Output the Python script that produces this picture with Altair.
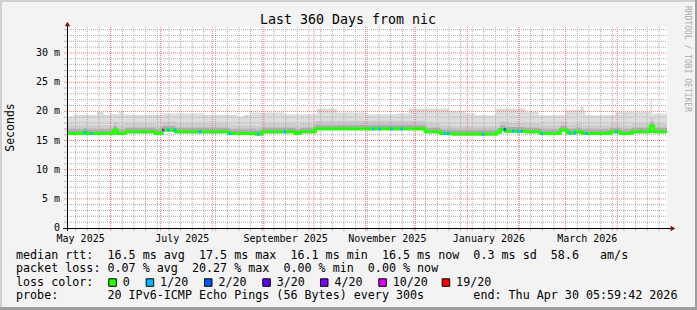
import altair as alt
import numpy as np
import pandas as pd

# ------------------------------------------------------------------
# Data (days counted from START)
# ------------------------------------------------------------------
START = pd.Timestamp("2025-05-05 20:00:00")
N_DAYS = 360

# median rtt (ms), piecewise constant from each start day
median_day = [0, 10, 12, 28, 30, 35, 53, 57, 65, 97, 113, 117, 137, 140, 149,
              215, 224, 231, 258, 260, 263, 275, 284, 296, 300, 305, 309, 313,
              326, 332, 339, 350, 352]
median_ms = [16.2, 16.4, 16.2, 16.8, 16.2, 16.5, 16.2, 16.8, 16.5, 16.2, 16.1, 16.5,
             16.2, 16.5, 17.0, 16.5, 16.2, 16.1, 16.4, 16.9, 16.6, 16.5, 16.2, 16.8,
             16.3, 16.5, 16.2, 16.2, 16.5, 16.2, 16.5, 17.5, 16.5]

# days with packet loss (number of lost pings out of 20)
loss_day = [10, 14, 57, 60, 64, 79, 97, 114, 130, 183, 187, 194, 200, 226, 228,
            249, 262, 267, 270, 272, 284, 301, 304, 311, 329]
loss_count = [1, 1, 10, 1, 1, 1, 1, 1, 1, 1, 1, 1, 1, 1, 1,
              1, 2, 1, 1, 1, 1, 1, 1, 1, 1]

# top of the smoke (max rtt, ms), piecewise constant
max_day = [0, 4, 18, 22, 26, 31, 34, 38, 58, 82, 102, 106, 110, 130, 150, 162,
           179, 197, 205, 229, 239, 245, 257, 275, 283, 299, 308, 310, 311, 329,
           350, 351]
max_ms = [19.1, 19.4, 19.9, 19.4, 19.5, 19.9, 19.5, 19.4, 19.65, 19.4, 19.1, 19.4,
          19.8, 19.5, 20.5, 19.8, 19.5, 19.65, 20.5, 20.05, 19.65, 19.35, 20.5,
          19.9, 19.35, 20.2, 20.8, 20.2, 19.35, 19.9, 21.9, 19.65]

# thickness of the inner smoke bands relative to the median (ms)
smoke_below_ms = 0.25
smoke_mid_above_ms = 1.4
smoke_dark_above_ms = 0.7

loss_levels = [0, 1, 2, 3, 4, 10, 19]
loss_labels = ["0", "1/20", "2/20", "3/20", "4/20", "10/20", "19/20"]
loss_colors = ["#26ff00", "#00b8ff", "#0059ff", "#5e00ff", "#7e00ff", "#dd00ff", "#ff0000"]

y_label_vals = [0, 5, 10, 15, 20, 25, 30]
y_label_text = ["0", "5 m", "10 m", "15 m", "20 m", "25 m", "30 m"]
x_label_dates = ["2025-05-14", "2025-07-14", "2025-09-14", "2025-11-14", "2026-01-14", "2026-03-14"]
x_label_text = ["May 2025", "July 2025", "September 2025", "November 2025", "January 2026", "March 2026"]

title_text = "Last 360 Days from nic"
legend_lines = [
    "median rtt:  16.5 ms avg  17.5 ms max  16.1 ms min  16.5 ms now  0.3 ms sd  58.6   am/s",
    "packet loss: 0.07 % avg  20.27 % max  0.00 % min  0.00 % now",
    "loss color:",
    "probe:       20 IPv6-ICMP Echo Pings (56 Bytes) every 300s       end: Thu Apr 30 05:59:42 2026",
]

# ------------------------------------------------------------------
# Build tables
# ------------------------------------------------------------------
def step_lookup(days, vals, d):
    idx = np.searchsorted(np.array(days), d, side="right") - 1
    return np.array(vals)[idx]

d = np.arange(0, N_DAYS + 1)
med = step_lookup(median_day, median_ms, d)
mx = step_lookup(max_day, max_ms, d)
df = pd.DataFrame({
    "t": START + pd.to_timedelta(d, unit="D"),
    "med": med,
    "lo": med - smoke_below_ms,
    "hi": mx,
    "mid": med + smoke_mid_above_ms,
    "dark": med + smoke_dark_above_ms,
})

ld = np.array(loss_day)
df_loss = pd.DataFrame({
    "t": START + pd.to_timedelta(ld, unit="D"),
    "t2": START + pd.to_timedelta(ld + 1.4, unit="D"),
    "med": step_lookup(median_day, median_ms, ld),
    "loss": loss_count,
})

W, H = 600, 201
YMAX = 34.46

xs = alt.Scale(domain=[alt.DateTime(year=2025, month=5, date=5, hours=20),
                       alt.DateTime(year=2026, month=4, date=30, hours=20)])
ys = alt.Scale(domain=[0, YMAX], nice=False, zero=False)

MONO = "DejaVu Sans Mono"
one = pd.DataFrame({"a": [0]})

# grid positions
minor_y = pd.DataFrame({"v": [v for v in range(1, 35) if v % 5 != 0]})
major_y = pd.DataFrame({"v": [v for v in range(5, 35, 5)]})
weeks = pd.DataFrame({"t": pd.date_range("2025-05-11", "2026-04-30", freq="7D")})
months = pd.DataFrame({"t": pd.date_range("2025-06-01", "2026-04-01", freq="MS")})

X = lambda f: alt.X(f, scale=xs, axis=None)
Y = lambda f: alt.Y(f, scale=ys, axis=None)

MINOR_C = "#ABABAB"
MAJOR_C = "#F27878"

layers = []

# smoke
for lo, hi, col in [("lo", "hi", "#DDDDDD"), ("lo", "mid", "#CDCDCD"), ("lo", "dark", "#ADADAD")]:
    layers.append(alt.Chart(df).mark_area(interpolate="step-after", color=col).encode(
        x=X("t:T"), y=Y(f"{lo}:Q"), y2=f"{hi}:Q"))

# grid
layers.append(alt.Chart(minor_y).mark_rule(color=MINOR_C, strokeDash=[1, 1], strokeWidth=1).encode(
    y=Y("v:Q"), x=alt.value(0), x2=alt.value(W)))
layers.append(alt.Chart(weeks).mark_rule(color=MINOR_C, strokeDash=[1, 1], strokeWidth=1).encode(
    x=X("t:T"), y=alt.value(0), y2=alt.value(H)))
layers.append(alt.Chart(major_y).mark_rule(color=MAJOR_C, strokeDash=[1, 1], strokeWidth=1).encode(
    y=Y("v:Q"), x=alt.value(0), x2=alt.value(W)))
layers.append(alt.Chart(months).mark_rule(color=MAJOR_C, strokeDash=[1, 1], strokeWidth=1).encode(
    x=X("t:T"), y=alt.value(0), y2=alt.value(H)))
# small ticks outside the axes
layers.append(alt.Chart(minor_y).mark_rule(color="#B4B4B4").encode(
    y=Y("v:Q"), x=alt.value(-3), x2=alt.value(0)))
layers.append(alt.Chart(major_y).mark_rule(color="#F29A9A").encode(
    y=Y("v:Q"), x=alt.value(-3), x2=alt.value(0)))
layers.append(alt.Chart(weeks).mark_rule(color="#B4B4B4").encode(
    x=X("t:T"), y=alt.value(H), y2=alt.value(H + 3)))
layers.append(alt.Chart(months).mark_rule(color="#F29A9A").encode(
    x=X("t:T"), y=alt.value(H), y2=alt.value(H + 3)))

# median line + loss colours
layers.append(alt.Chart(df).mark_line(interpolate="step-after", color=loss_colors[0], strokeWidth=3).encode(
    x=X("t:T"), y=Y("med:Q")))
layers.append(alt.Chart(df_loss).mark_rule(strokeWidth=3).encode(
    x=X("t:T"), x2="t2:T", y=Y("med:Q"),
    color=alt.Color("loss:O", scale=alt.Scale(domain=loss_levels, range=loss_colors), legend=None)))

# axes lines and arrows
layers.append(alt.Chart(one).mark_rule(color="#000000", strokeWidth=1).encode(
    x=alt.value(-4), x2=alt.value(W + 6), y=alt.value(H + 0.5)))
layers.append(alt.Chart(one).mark_rule(color="#000000", strokeWidth=1).encode(
    x=alt.value(0.5), y=alt.value(-4), y2=alt.value(H + 3)))
layers.append(alt.Chart(one).mark_point(shape="triangle-up", filled=True, color="#8B1010", size=28, opacity=1).encode(
    x=alt.value(0.5), y=alt.value(-3)))
layers.append(alt.Chart(one).mark_point(shape="triangle-right", filled=True, color="#8B1010", size=28, opacity=1).encode(
    x=alt.value(W + 6), y=alt.value(H + 0.5)))

# axis labels
ylab = pd.DataFrame({"v": y_label_vals, "txt": y_label_text})
layers.append(alt.Chart(ylab).mark_text(font=MONO, fontSize=10, align="right", baseline="middle", color="#000").encode(
    y=Y("v:Q"), x=alt.value(-7), text="txt:N"))
xlab = pd.DataFrame({"t": pd.to_datetime(x_label_dates), "txt": x_label_text})
layers.append(alt.Chart(xlab).mark_text(font=MONO, fontSize=10, align="center", baseline="alphabetic", color="#000").encode(
    x=X("t:T"), y=alt.value(214.5), text="txt:N"))

nb = lambda s: s.replace(" ", "\u00a0")

# title, axis title, watermark
layers.append(alt.Chart(one).mark_text(font=MONO, fontSize=13.3, align="center", baseline="alphabetic", color="#000",
                                       text=nb(title_text)).encode(x=alt.value(281), y=alt.value(-3)))
layers.append(alt.Chart(one).mark_text(font=MONO, fontSize=11.5, align="center", baseline="middle", angle=270,
                                       color="#000", text="Seconds").encode(x=alt.value(-56), y=alt.value(100.5)))
layers.append(alt.Chart(one).mark_text(font=MONO, fontSize=8, align="center", baseline="middle", angle=90,
                                       color="#AAAAAA", text=nb("RRDTOOL / TOBI OETIKER")).encode(
    x=alt.value(620), y=alt.value(32)))

# legend text
base_y = [231.5, 245, 258.5, 272]
for line, yy in zip(legend_lines, base_y):
    layers.append(alt.Chart(one).mark_text(font=MONO, fontSize=11.7, align="left", baseline="alphabetic",
                                           color="#000", text=nb(line)).encode(x=alt.value(-51), y=alt.value(yy)))

box_x_abs = [108.3, 145.7, 204.0, 262.3, 320.0, 378.3, 441.7]
for bx, lab, col in zip(box_x_abs, loss_labels, loss_colors):
    rx = bx - 67
    layers.append(alt.Chart(one).mark_rect(color=col, stroke="#000000", strokeWidth=1).encode(
        x=alt.value(rx + 0.5), x2=alt.value(rx + 8), y=alt.value(251.8), y2=alt.value(259.3)))
    layers.append(alt.Chart(one).mark_text(font=MONO, fontSize=11.7, align="left", baseline="alphabetic",
                                           color="#000", text=lab).encode(x=alt.value(rx + 14.4), y=alt.value(258.5)))

# frame (3D border of the image)
layers.append(alt.Chart(one).mark_rect(color="#D0D0D0").encode(
    x=alt.value(-67), x2=alt.value(-65), y=alt.value(-27), y2=alt.value(283)))
layers.append(alt.Chart(one).mark_rect(color="#D0D0D0").encode(
    x=alt.value(-67), x2=alt.value(630), y=alt.value(-27), y2=alt.value(-25)))
layers.append(alt.Chart(one).mark_rect(color="#9E9E9E").encode(
    x=alt.value(628), x2=alt.value(630), y=alt.value(-27), y2=alt.value(283)))
layers.append(alt.Chart(one).mark_rect(color="#9E9E9E").encode(
    x=alt.value(-67), x2=alt.value(630), y=alt.value(280), y2=alt.value(283)))

chart = alt.layer(*layers).resolve_scale(color="independent").properties(
    width=W, height=H,
    autosize=alt.AutoSizeParams(type="none"),
    padding={"left": 67, "top": 27, "right": 30, "bottom": 82},
    background="#F3F3F3",
).configure_view(fill="white", stroke=None)

chart.save("out.html", embed_options={"renderer": "svg", "actions": False})
